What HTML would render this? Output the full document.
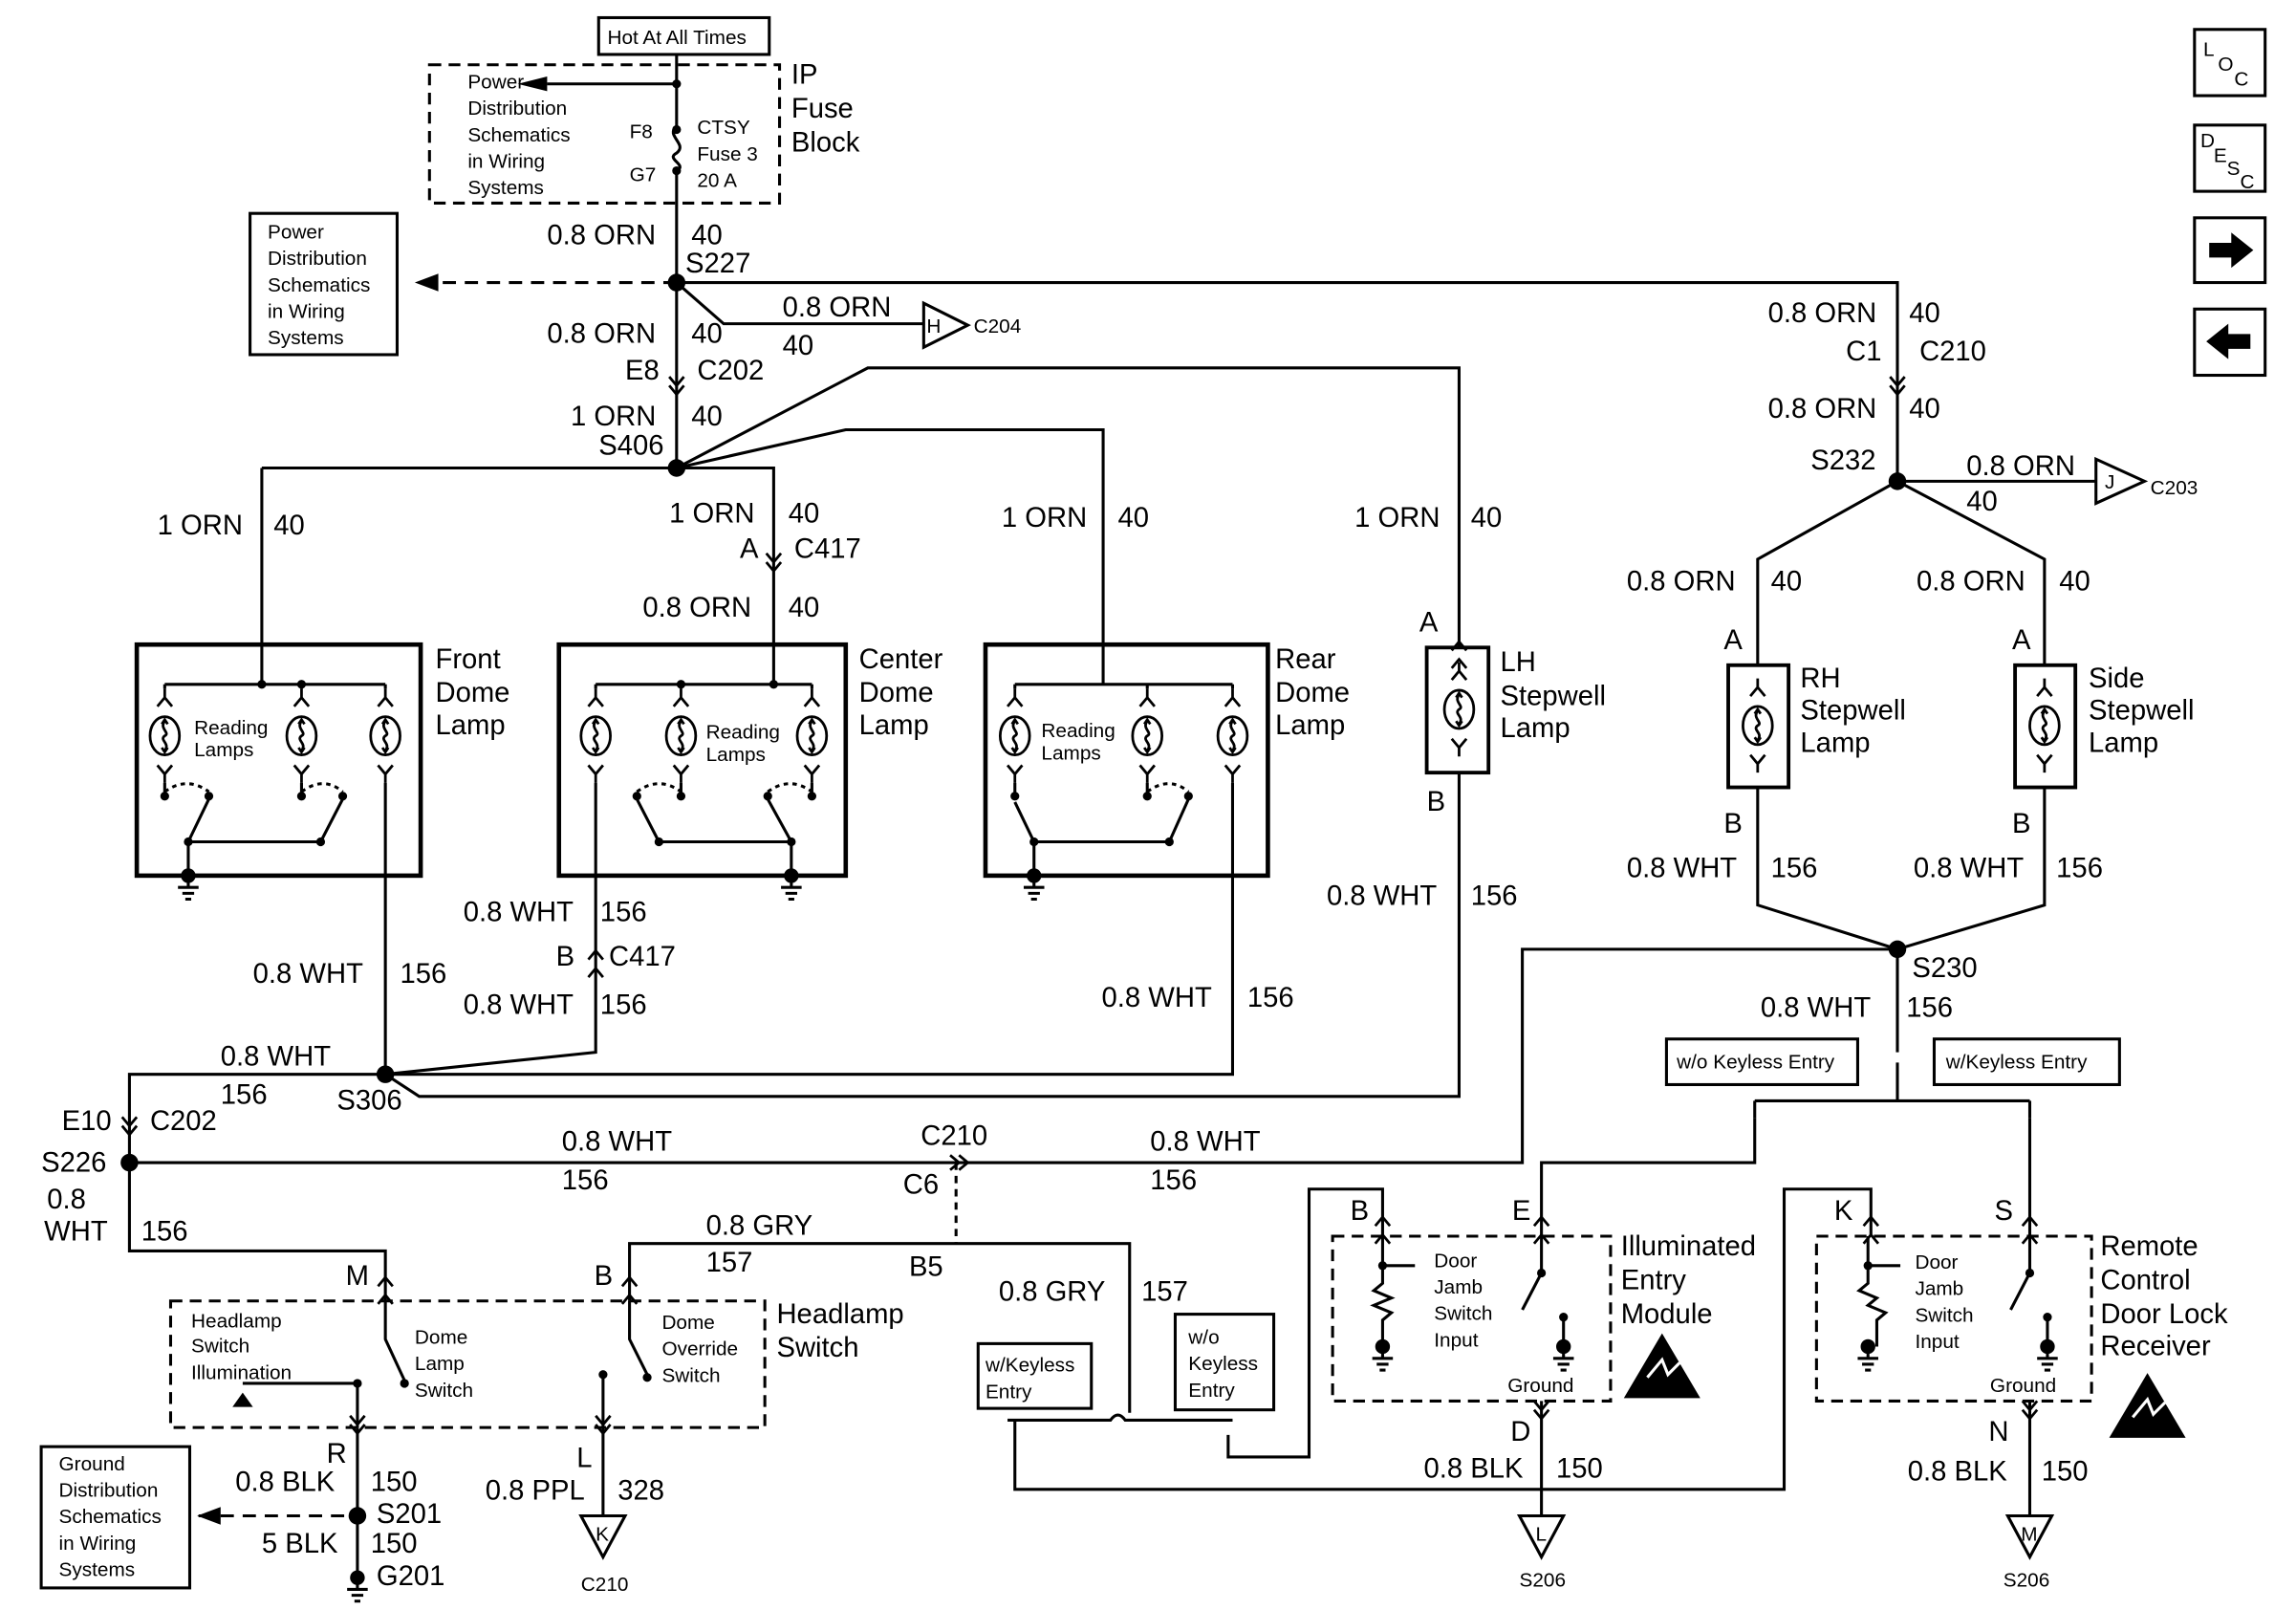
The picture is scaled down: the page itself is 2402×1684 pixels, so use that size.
<!DOCTYPE html>
<html><head><meta charset="utf-8"><style>
html,body{margin:0;padding:0;background:#fff}
svg{display:block}
text{font-family:"Liberation Sans",Arial,sans-serif;fill:#000}
.b{font-size:19px}.s{font-size:13.5px}.m{font-size:15px}
</style></head><body>
<svg width="2402" height="1684" viewBox="0 0 1561 1094" preserveAspectRatio="none" xmlns="http://www.w3.org/2000/svg">
<defs>
<g id="bulb" fill="none" stroke="#000" stroke-width="1.8">
<ellipse cx="0" cy="0" rx="10" ry="13"/>
<path d="M0,-10 C-4,-5 4,-2 0,0 C-4,3 4,5 0,10"/>
<path d="M-2,-8 L0,-11 L2,-8 M-2,8 L0,11 L2,8"/>
<path d="M-5,-20 L0,-26 L5,-20 M-5,20 L0,26 L5,20 M0,26 L0,32 M0,-26 L0,-32"/>
</g>
<g id="gnd" stroke="#000" stroke-width="2">
<circle cx="0" cy="0" r="4" fill="#000"/>
<path d="M0,0 V8 M-7,8 H7 M-4,12 H4 M-2,16 H2"/>
</g>
<g id="chev" fill="none" stroke="#000" stroke-width="1.8"><path d="M-5,-6 L0,0 L5,-6 M-5,0 L0,6 L5,0"/></g>
<g id="chevu" fill="none" stroke="#000" stroke-width="1.8"><path d="M-5,-3 L0,-9 L5,-3 M-5,9 L0,3 L5,9"/></g>
<g id="esd"><path d="M0,-22 L26,22 L-26,22 Z" fill="#000"/><path d="M-10,8 L0,-4 L4,6 L12,-2" stroke="#fff" stroke-width="2" fill="none"/></g>
</defs>
<g stroke="#000" stroke-width="2" fill="none">
<!-- top boxes -->
<rect x="407" y="12" width="116" height="25"/>
<rect x="292" y="44" width="238" height="94" stroke-dasharray="8,5"/>
<path d="M460,37 V86 M460,114 V318"/>
<path d="M460,86 C452,92 468,98 460,104 C452,108 468,112 460,116"/>
<path d="M460,57 H372"/>
<rect x="170" y="145" width="100" height="96"/>
<path d="M460,192 H290" stroke-dasharray="9,6"/>
<path d="M460,192 H1290 V325"/>
<path d="M460,192 L492,220 H628"/>
<path d="M628,206 V236 L658,221 Z"/>
<!-- S406 distribution -->
<path d="M178,318 H526 V438 M178,318 V465"/>
<path d="M460,318 L575,292 H750 V465"/>
<path d="M460,318 L590,250 H992 V440"/>
<!-- front dome -->
<rect x="93" y="438" width="193" height="157" stroke-width="3"/>
<path d="M112,465 H262 M112,465 V468 M205,465 V468 M262,465 V468"/>
<path d="M112,532 V541 M205,532 V541 M262,532 V730"/>
<path d="M112,538 Q127,527 142,538 M205,538 Q220,527 233,538" stroke-dasharray="3,3"/>
<path d="M128,572 L142,543 M218,572 L233,543 M128,572 H218 M128,572 V595"/>
<!-- center dome -->
<rect x="380" y="438" width="195" height="157" stroke-width="3"/>
<path d="M405,465 H552 M405,465 V468 M463,465 V468 M552,465 V468 M526,438 V465"/>
<path d="M463,532 V541 M552,532 V541 M405,532 V715 L262,730"/>
<path d="M433,538 Q448,527 463,538 M522,538 Q537,527 552,538" stroke-dasharray="3,3"/>
<path d="M448,572 L433,543 M538,572 L522,543 M448,572 H538 V595"/>
<!-- rear dome -->
<rect x="670" y="438" width="192" height="157" stroke-width="3"/>
<path d="M690,465 H838 M690,465 V468 M780,465 V468 M838,465 V468"/>
<path d="M690,532 V541 M780,532 V541 M838,532 V730 H262"/>
<path d="M780,538 Q795,527 808,538" stroke-dasharray="3,3"/>
<path d="M703,572 V595 M703,572 H795 L808,543 M690,545 L703,572"/>
<!-- LH stepwell -->
<rect x="970" y="440" width="42" height="85" stroke-width="2.5"/>
<path d="M992,525 V745 H285 L262,730"/>
<!-- S306 to S226 -->
<path d="M262,730 H88 V850 H262 V884"/>
<path d="M88,790 H1035 V645 H1290"/>
<path d="M650,790 V845" stroke-dasharray="5,4"/>
<!-- headlamp switch -->
<rect x="116" y="884" width="404" height="86" stroke-dasharray="8,5"/>
<path d="M243,970 V1072"/>
<path d="M262,884 V910 L275,938 M243,940 V970 M165,940 H243"/>
<path d="M160,955 L170,955 L165,948Z" fill="#000"/>
<path d="M428,884 V845 H768 V940"/>
<path d="M428,884 V910 L440,934 M410,934 V970"/>
<path d="M410,970 V1030 M395,1030 H425 L410,1058 Z"/>
<path d="M135,1030 H238" stroke-dasharray="9,6"/>
<rect x="28" y="983" width="101" height="96"/>
<!-- keyless left -->
<rect x="665" y="913" width="77" height="44"/>
<rect x="799" y="893" width="67" height="65"/>
<path d="M685,965 H755 Q760,958 765,965 H838 M768,940 V960"/>
<path d="M690,965 V1012 H1213 V808 H1272 V840"/>
<path d="M835,975 V990 H890 V808 H940 V840"/>
<!-- right side S232 -->
<path d="M1290,327 H1425 M1425,312 V342 L1458,327 Z"/>
<path d="M1290,327 L1195,380 V452 M1290,327 L1390,380 V452"/>
<rect x="1175" y="452" width="41" height="83" stroke-width="2.5"/>
<rect x="1370" y="452" width="41" height="83" stroke-width="2.5"/>
<path d="M1195,535 V615 L1290,645 L1390,615 V535"/>
<path d="M1290,645 V715 M1290,722 V748"/>
<path d="M1193,748 H1380 M1193,748 V760 M1380,748 V760"/>
<rect x="1133" y="706" width="130" height="31"/>
<rect x="1315" y="706" width="126" height="31"/>
<path d="M1193,760 V790 H1048 V840"/>
<path d="M1380,760 V840"/>
<!-- modules -->
<rect x="906" y="840" width="189" height="112" stroke-dasharray="8,5"/>
<rect x="1235" y="840" width="187" height="112" stroke-dasharray="8,5"/>
<path d="M940,840 V860 M940,860 H962 M940,860 V872 l-6,5 l12,5 l-12,5 l12,5 l-6,5 V915"/>
<path d="M1048,840 V865 L1035,890 M1063,895 V915"/>
<path d="M1270,840 V860 H1292 M1270,860 V872 l-6,5 l12,5 l-6,5 l12,5 l-6,5 V915"/>
<path d="M1380,840 V865 L1367,890 M1392,895 V915"/>
<path d="M1048,952 V1030 M1033,1030 H1063 L1048,1058 Z"/>
<path d="M1380,952 V1030 M1365,1030 H1395 L1380,1058 Z"/>
<!-- side icons -->
<rect x="1492" y="20" width="48" height="45"/>
<rect x="1492" y="85" width="48" height="45"/>
<rect x="1492" y="148" width="48" height="44"/>
<rect x="1492" y="210" width="48" height="45"/>
</g>
<path d="M352,57 L372,52 V62Z"/>
<path d="M282,192 L298,186 V198Z"/>
<path d="M134,1030 L150,1024 V1036Z"/>
<path d="M1502,165 H1517 V158 L1532,170 L1517,182 V175 H1502Z"/>
<path d="M1530,227 H1515 V220 L1500,232 L1515,244 V237 H1530Z"/>
<g fill="#000">
<circle cx="460" cy="192" r="6"/><circle cx="460" cy="318" r="6"/><circle cx="262" cy="730" r="6"/>
<circle cx="88" cy="790" r="6"/><circle cx="1290" cy="327" r="6"/><circle cx="1290" cy="645" r="6"/>
<circle cx="243" cy="1030" r="6"/><circle cx="460" cy="88" r="3"/><circle cx="460" cy="116" r="3"/><circle cx="460" cy="57" r="3"/>
<circle cx="178" cy="465" r="3"/><circle cx="205" cy="465" r="3"/><circle cx="463" cy="465" r="3"/><circle cx="526" cy="465" r="3"/>
<circle cx="112" cy="541" r="3"/><circle cx="142" cy="541" r="3"/><circle cx="205" cy="541" r="3"/><circle cx="233" cy="541" r="3"/>
<circle cx="128" cy="572" r="3"/><circle cx="218" cy="572" r="3"/>
<circle cx="433" cy="541" r="3"/><circle cx="463" cy="541" r="3"/><circle cx="522" cy="541" r="3"/><circle cx="552" cy="541" r="3"/>
<circle cx="448" cy="572" r="3"/><circle cx="538" cy="572" r="3"/>
<circle cx="690" cy="541" r="3"/><circle cx="780" cy="541" r="3"/><circle cx="808" cy="541" r="3"/><circle cx="703" cy="572" r="3"/><circle cx="795" cy="572" r="3"/>
<circle cx="243" cy="940" r="3"/><circle cx="275" cy="940" r="3"/><circle cx="410" cy="934" r="3"/><circle cx="440" cy="936" r="3"/>
<circle cx="1048" cy="865" r="3"/><circle cx="1063" cy="895" r="3"/><circle cx="1380" cy="865" r="3"/><circle cx="1392" cy="895" r="3"/><circle cx="940" cy="860" r="3"/><circle cx="1270" cy="860" r="3"/>
</g>
<use href="#bulb" x="112" y="500"/><use href="#bulb" x="205" y="500"/><use href="#bulb" x="262" y="500"/>
<use href="#bulb" x="405" y="500"/><use href="#bulb" x="463" y="500"/><use href="#bulb" x="552" y="500"/>
<use href="#bulb" x="690" y="500"/><use href="#bulb" x="780" y="500"/><use href="#bulb" x="838" y="500"/>
<use href="#bulb" x="992" y="482"/><use href="#bulb" x="1195" y="493"/><use href="#bulb" x="1390" y="493"/>
<use href="#gnd" x="128" y="595"/><use href="#gnd" x="538" y="595"/><use href="#gnd" x="703" y="595"/>
<use href="#gnd" x="243" y="1072"/><use href="#gnd" x="940" y="915"/><use href="#gnd" x="1063" y="915"/>
<use href="#gnd" x="1270" y="915"/><use href="#gnd" x="1392" y="915"/>
<use href="#chev" x="460" y="262"/><use href="#chev" x="526" y="382"/><use href="#chevu" x="405" y="655"/>
<use href="#chev" x="88" y="765"/><use href="#chev" x="1290" y="262"/>
<use href="#chevu" x="262" y="877"/><use href="#chevu" x="428" y="877"/><use href="#chev" x="243" y="968"/><use href="#chev" x="410" y="968"/>
<use href="#chevu" x="992" y="445"/><use href="#chevu" x="940" y="836"/><use href="#chevu" x="1048" y="836"/><use href="#chevu" x="1272" y="836"/><use href="#chevu" x="1380" y="836"/>
<use href="#chev" x="1048" y="958"/><use href="#chev" x="1380" y="958"/>
<g transform="rotate(-90 652 790)"><use href="#chev" x="652" y="790"/></g>
<use href="#esd" x="1130" y="928"/><use href="#esd" x="1460" y="955"/>
<text class="s" x="413" y="30">Hot At All Times</text>
<text class="s" x="318" y="60">Power</text><text class="s" x="318" y="78">Distribution</text><text class="s" x="318" y="96">Schematics</text><text class="s" x="318" y="114">in Wiring</text><text class="s" x="318" y="132">Systems</text>
<text class="s" x="428" y="94">F8</text><text class="s" x="428" y="123">G7</text>
<text class="s" x="474" y="91">CTSY</text><text class="s" x="474" y="109">Fuse 3</text><text class="s" x="474" y="127">20 A</text>
<text class="b" x="538" y="57">IP</text><text class="b" x="538" y="80">Fuse</text><text class="b" x="538" y="103">Block</text>
<text class="s" x="182" y="162">Power</text><text class="s" x="182" y="180">Distribution</text><text class="s" x="182" y="198">Schematics</text><text class="s" x="182" y="216">in Wiring</text><text class="s" x="182" y="234">Systems</text>
<text class="b" x="372" y="166">0.8 ORN</text><text class="b" x="470" y="166">40</text><text class="b" x="466" y="185">S227</text>
<text class="b" x="532" y="215">0.8 ORN</text><text class="b" x="532" y="241">40</text><text class="s" x="630" y="226">H</text><text class="s" x="662" y="226">C204</text>
<text class="b" x="372" y="233">0.8 ORN</text><text class="b" x="470" y="233">40</text><text class="b" x="425" y="258">E8</text><text class="b" x="474" y="258">C202</text>
<text class="b" x="388" y="289">1 ORN</text><text class="b" x="470" y="289">40</text><text class="b" x="407" y="309">S406</text>
<text class="b" x="107" y="363">1 ORN</text><text class="b" x="186" y="363">40</text>
<text class="b" x="455" y="355">1 ORN</text><text class="b" x="536" y="355">40</text><text class="b" x="503" y="379">A</text><text class="b" x="540" y="379">C417</text>
<text class="b" x="437" y="419">0.8 ORN</text><text class="b" x="536" y="419">40</text>
<text class="b" x="681" y="358">1 ORN</text><text class="b" x="760" y="358">40</text>
<text class="b" x="921" y="358">1 ORN</text><text class="b" x="1000" y="358">40</text><text class="b" x="965" y="429">A</text>
<text class="b" x="296" y="454">Front</text><text class="b" x="296" y="477">Dome</text><text class="b" x="296" y="499">Lamp</text>
<text class="b" x="584" y="454">Center</text><text class="b" x="584" y="477">Dome</text><text class="b" x="584" y="499">Lamp</text>
<text class="b" x="867" y="454">Rear</text><text class="b" x="867" y="477">Dome</text><text class="b" x="867" y="499">Lamp</text>
<text class="s" x="132" y="499">Reading</text><text class="s" x="132" y="514">Lamps</text>
<text class="s" x="480" y="502">Reading</text><text class="s" x="480" y="517">Lamps</text>
<text class="s" x="708" y="501">Reading</text><text class="s" x="708" y="516">Lamps</text>
<text class="b" x="1020" y="456">LH</text><text class="b" x="1020" y="479">Stepwell</text><text class="b" x="1020" y="501">Lamp</text><text class="b" x="970" y="551">B</text>
<text class="b" x="172" y="668">0.8 WHT</text><text class="b" x="272" y="668">156</text>
<text class="b" x="315" y="626">0.8 WHT</text><text class="b" x="408" y="626">156</text>
<text class="b" x="378" y="656">B</text><text class="b" x="414" y="656">C417</text>
<text class="b" x="315" y="689">0.8 WHT</text><text class="b" x="408" y="689">156</text>
<text class="b" x="749" y="684">0.8 WHT</text><text class="b" x="848" y="684">156</text>
<text class="b" x="902" y="615">0.8 WHT</text><text class="b" x="1000" y="615">156</text>
<text class="b" x="150" y="724">0.8 WHT</text><text class="b" x="150" y="750">156</text><text class="b" x="229" y="754">S306</text>
<text class="b" x="42" y="768">E10</text><text class="b" x="102" y="768">C202</text><text class="b" x="28" y="796">S226</text>
<text class="b" x="32" y="821">0.8</text><text class="b" x="30" y="843">WHT</text><text class="b" x="96" y="843">156</text>
<text class="b" x="382" y="782">0.8 WHT</text><text class="b" x="382" y="808">156</text>
<text class="b" x="626" y="778">C210</text><text class="b" x="614" y="811">C6</text>
<text class="b" x="782" y="782">0.8 WHT</text><text class="b" x="782" y="808">156</text>
<text class="b" x="235" y="873">M</text>
<text class="b" x="480" y="839">0.8 GRY</text><text class="b" x="480" y="864">157</text><text class="b" x="404" y="873">B</text><text class="b" x="618" y="867">B5</text>
<text class="b" x="679" y="884">0.8 GRY</text><text class="b" x="776" y="884">157</text>
<text class="s" x="130" y="902">Headlamp</text><text class="s" x="130" y="919">Switch</text><text class="s" x="130" y="937">Illumination</text>
<text class="s" x="282" y="913">Dome</text><text class="s" x="282" y="931">Lamp</text><text class="s" x="282" y="949">Switch</text>
<text class="s" x="450" y="903">Dome</text><text class="s" x="450" y="921">Override</text><text class="s" x="450" y="939">Switch</text>
<text class="b" x="528" y="899">Headlamp</text><text class="b" x="528" y="922">Switch</text>
<text class="b" x="222" y="994">R</text><text class="b" x="160" y="1013">0.8 BLK</text><text class="b" x="252" y="1013">150</text><text class="b" x="256" y="1035">S201</text>
<text class="b" x="178" y="1055">5 BLK</text><text class="b" x="252" y="1055">150</text><text class="b" x="256" y="1077">G201</text>
<text class="s" x="40" y="999">Ground</text><text class="s" x="40" y="1017">Distribution</text><text class="s" x="40" y="1035">Schematics</text><text class="s" x="40" y="1053">in Wiring</text><text class="s" x="40" y="1071">Systems</text>
<text class="b" x="392" y="997">L</text><text class="b" x="330" y="1019">0.8 PPL</text><text class="b" x="420" y="1019">328</text>
<text class="s" x="405" y="1047">K</text><text class="s" x="395" y="1081">C210</text>
<text class="s" x="670" y="932">w/Keyless</text><text class="s" x="670" y="950">Entry</text>
<text class="s" x="808" y="913">w/o</text><text class="s" x="808" y="931">Keyless</text><text class="s" x="808" y="949">Entry</text>
<text class="b" x="1202" y="219">0.8 ORN</text><text class="b" x="1298" y="219">40</text><text class="b" x="1255" y="245">C1</text><text class="b" x="1305" y="245">C210</text>
<text class="b" x="1202" y="284">0.8 ORN</text><text class="b" x="1298" y="284">40</text><text class="b" x="1231" y="319">S232</text>
<text class="b" x="1337" y="323">0.8 ORN</text><text class="b" x="1337" y="347">40</text><text class="s" x="1431" y="332">J</text><text class="s" x="1462" y="336">C203</text>
<text class="b" x="1106" y="401">0.8 ORN</text><text class="b" x="1204" y="401">40</text><text class="b" x="1303" y="401">0.8 ORN</text><text class="b" x="1400" y="401">40</text>
<text class="b" x="1172" y="441">A</text><text class="b" x="1368" y="441">A</text>
<text class="b" x="1224" y="467">RH</text><text class="b" x="1224" y="489">Stepwell</text><text class="b" x="1224" y="511">Lamp</text>
<text class="b" x="1420" y="467">Side</text><text class="b" x="1420" y="489">Stepwell</text><text class="b" x="1420" y="511">Lamp</text>
<text class="b" x="1172" y="566">B</text><text class="b" x="1368" y="566">B</text>
<text class="b" x="1106" y="596">0.8 WHT</text><text class="b" x="1204" y="596">156</text><text class="b" x="1301" y="596">0.8 WHT</text><text class="b" x="1398" y="596">156</text>
<text class="b" x="1300" y="664">S230</text><text class="b" x="1197" y="691">0.8 WHT</text><text class="b" x="1296" y="691">156</text>
<text class="s" x="1140" y="726">w/o Keyless Entry</text><text class="s" x="1323" y="726">w/Keyless Entry</text>
<text class="b" x="918" y="829">B</text><text class="b" x="1028" y="829">E</text>
<text class="s" x="975" y="861">Door</text><text class="s" x="975" y="879">Jamb</text><text class="s" x="975" y="897">Switch</text><text class="s" x="975" y="915">Input</text><text class="s" x="1025" y="946">Ground</text>
<text class="b" x="1102" y="853">Illuminated</text><text class="b" x="1102" y="876">Entry</text><text class="b" x="1102" y="899">Module</text>
<text class="b" x="1027" y="979">D</text><text class="b" x="968" y="1004">0.8 BLK</text><text class="b" x="1058" y="1004">150</text>
<text class="s" x="1044" y="1047">L</text><text class="s" x="1033" y="1078">S206</text>
<text class="b" x="1247" y="829">K</text><text class="b" x="1356" y="829">S</text>
<text class="s" x="1302" y="862">Door</text><text class="s" x="1302" y="880">Jamb</text><text class="s" x="1302" y="898">Switch</text><text class="s" x="1302" y="916">Input</text><text class="s" x="1353" y="946">Ground</text>
<text class="b" x="1428" y="853">Remote</text><text class="b" x="1428" y="876">Control</text><text class="b" x="1428" y="899">Door Lock</text><text class="b" x="1428" y="921">Receiver</text>
<text class="b" x="1352" y="979">N</text><text class="b" x="1297" y="1006">0.8 BLK</text><text class="b" x="1388" y="1006">150</text>
<text class="s" x="1374" y="1047">M</text><text class="s" x="1362" y="1078">S206</text>
<text class="s" x="1498" y="38">L</text><text class="s" x="1508" y="48">O</text><text class="s" x="1519" y="58">C</text>
<text class="s" x="1496" y="100">D</text><text class="s" x="1505" y="110">E</text><text class="s" x="1514" y="119">S</text><text class="s" x="1523" y="128">C</text>
</svg>
</body></html>
